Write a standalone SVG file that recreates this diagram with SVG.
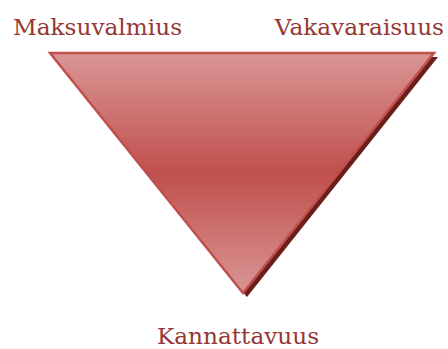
<svg xmlns="http://www.w3.org/2000/svg" width="448" height="349" viewBox="0 0 448 349">
<style>
.lbl{font-family:"DejaVu Serif",serif;font-size:23.2px;fill:#953735}
</style>
<defs>
<linearGradient id="g" x1="0" y1="53" x2="0" y2="293" gradientUnits="userSpaceOnUse">
<stop offset="0" stop-color="#d99695"/>
<stop offset="0.5" stop-color="#c0504d"/>
<stop offset="1" stop-color="#d99695"/>
</linearGradient>
</defs>
<g id="triangle">
<polygon points="54,57 438,57 247,297" fill="#6b1e1c"/>
<polygon points="50,53 434,53 243,293" fill="url(#g)" stroke="#c0504d" stroke-width="2.5" stroke-linejoin="miter"/>
</g>
<g id="maksuvalmius"><text class="lbl" x="13" y="35">Maksuvalmius</text></g>
<g id="vakavaraisuus"><text class="lbl" x="444" y="35" text-anchor="end">Vakavaraisuus</text></g>
<g id="kannattavuus"><text class="lbl" x="238" y="344" text-anchor="middle">Kannattavuus</text></g>
<g id="connectors"></g>
</svg>
